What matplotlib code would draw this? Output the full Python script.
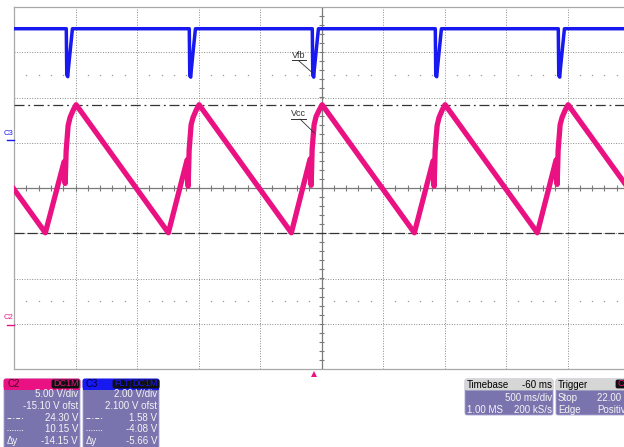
import matplotlib
matplotlib.use("Agg")
import matplotlib.pyplot as plt
import numpy as np
from matplotlib.patches import FancyBboxPatch, Rectangle
from matplotlib.transforms import blended_transform_factory

plt.rcParams['font.family'] = ['Liberation Sans', 'DejaVu Sans']

W, H = 624, 447

c2_scale, c2_ofst = 5.00, -15.10     # V/div, V
c3_scale, c3_ofst = 2.00, 2.100
time_div = 0.5                       # 500 ms/div
t_centre = 0.06                      # timebase -60 ms -> centre is 60 ms after trigger

cursor_dashdot = 24.30               # C2 cursors
cursor_dashed = 10.15

# Vcc on C2 (time in s from trigger, volts)
vcc_t = [-2.935,
         -2.185, -2.033, -2.024, -2.016, -2.000, -1.984, -1.959, -1.935,
         -1.185, -1.033, -1.024, -1.016, -1.000, -0.984, -0.959, -0.935,
         -0.185, -0.033, -0.024, -0.016, 0.000, 0.016, 0.041, 0.065,
         0.815, 0.967, 0.976, 0.984, 1.000, 1.016, 1.041, 1.065,
         1.815, 1.967, 1.976, 1.984, 2.000, 2.016, 2.041, 2.065,
         2.815]
vcc_v = [24.30,
         10.15, 18.0, 15.6, 19.2, 22.0, 22.9, 23.7, 24.30,
         10.15, 18.2, 15.3, 19.3, 22.1, 22.9, 23.7, 24.30,
         10.15, 18.3, 15.4, 19.4, 22.1, 23.0, 23.7, 24.30,
         10.15, 18.1, 15.3, 19.3, 22.0, 22.9, 23.7, 24.30,
         10.15, 18.2, 15.5, 19.3, 22.1, 22.9, 23.7, 24.30,
         10.15]

# Vfb on C3
vfb_t = [-2.50,
         -2.015, -2.011, -2.003, -1.999, -1.975, -1.965,
         -1.015, -1.011, -1.003, -0.999, -0.975, -0.965,
         -0.015, -0.011, -0.003, 0.001, 0.025, 0.035,
         0.985, 0.989, 0.997, 1.001, 1.025, 1.035,
         1.985, 1.989, 1.997, 2.001, 2.025, 2.035,
         2.60]
vfb_v = [4.94,
         4.94, 2.90, 2.82, 3.10, 4.40, 4.94,
         4.94, 2.85, 2.80, 3.10, 4.40, 4.94,
         4.94, 2.88, 2.80, 3.12, 4.40, 4.94,
         4.94, 2.86, 2.82, 3.10, 4.40, 4.94,
         4.94, 2.86, 2.80, 3.10, 4.40, 4.94,
         4.94]

# panel texts
c2_rows = ["5.00 V/div", "-15.10 V ofst", "24.30 V", "10.15 V", "-14.15 V"]
c3_rows = ["2.00 V/div", "2.100 V ofst", "1.58 V", "-4.08 V", "-5.66 V"]
tb_head = ("Timebase", "-60 ms")
tb_rows = [("", "500 ms/div"), ("1.00 MS", "200 kS/s")]
trig_rows = [("Stop", "22.00 V"), ("Edge", "Positive")]

PINK = '#ea1283'
BLUE = '#1818f0'
PANEL = '#7a74ae'
GRID = '#8a8a8a'
TXT = '#f4f4f4'

fig = plt.figure(figsize=(W / 100, H / 100), dpi=100)
pos = [14 / W, 78 / H, 615 / W, 362 / H]

# grid axes in divisions
ax = fig.add_axes(pos)
ax.set_xlim(-5, 5)
ax.set_ylim(-4, 4)
ax.set_xticks([])
ax.set_yticks([])
for s in ['left', 'top', 'bottom']:
    ax.spines[s].set_color('#a8a8a8')
    ax.spines[s].set_linewidth(0.9)
ax.spines['right'].set_visible(False)
for k in range(-4, 5):
    if k != 0:
        ax.axvline(k, color=GRID, lw=0.7, ls=(0, (1, 1.6)))
for k in range(-3, 4):
    if k != 0:
        ax.axhline(k, color=GRID, lw=0.7, ls=(0, (1, 1.6)))
minor = np.arange(-5, 5.001, 0.2)
sparse = [m for m in minor if abs(m - round(m)) > 0.01]
for yy in (2.5, -2.5):
    ax.plot(sparse, [yy] * len(sparse), ls='none', marker='s', ms=0.9,
            mew=0, color='#9a9a9a')
ax.axhline(0, color='#7a7a7a', lw=0.9)
ax.axvline(0, color='#7a7a7a', lw=0.9)
ax.vlines(minor, -0.06, 0.06, color='#7a7a7a', lw=0.8)
ax.hlines(np.arange(-4, 4.001, 0.2), -0.045, 0.045, color='#7a7a7a', lw=0.8)

# C2 axes in volts
ax2 = fig.add_axes(pos, facecolor='none')
ax2.set_xlim(t_centre - 5 * time_div, t_centre + 5 * time_div)
ax2.set_ylim(-c2_ofst - 4 * c2_scale, -c2_ofst + 4 * c2_scale)
ax2.axis('off')
ax2.axhline(cursor_dashdot, color='#353535', lw=0.9, ls=(0, (8, 3, 1.5, 3)))
ax2.axhline(cursor_dashed, color='#353535', lw=0.9, ls=(0, (8, 2.5)))
ax2.plot(vcc_t, vcc_v, color=PINK, lw=3.8, solid_joinstyle='round')

# C3 axes in volts
ax3 = ax2.twinx()
ax3.set_ylim(-c3_ofst - 4 * c3_scale, -c3_ofst + 4 * c3_scale)
ax3.axis('off')
ax3.plot(vfb_t, vfb_v, color=BLUE, lw=2.5, solid_joinstyle='round')

# overlay in pixel coords for the scope decorations
ov = fig.add_axes([0, 0, 1, 1], facecolor='none')
ov.set_xlim(0, W)
ov.set_ylim(H, 0)
ov.axis('off')
ov.set_zorder(5)

txt = dict(fontsize=7, va='center')

# trace labels
ov.text(298.5, 55, "Vfb", ha='center', color='#303030', fontsize=6.5, va='center')
ov.plot([292, 306], [60, 60], color='#303030', lw=0.7)
ov.annotate('', xy=(-0.015, 3.0), xycoords=ax3.transData, xytext=(299, 61),
            textcoords=ov.transData,
            arrowprops=dict(arrowstyle='-', lw=0.6, color='#303030', shrinkA=0, shrinkB=0))
ov.text(298.5, 113, "Vcc", ha='center', color='#303030', fontsize=6.5, va='center')
ov.plot([291, 306], [118.5, 118.5], color='#303030', lw=0.7)
ov.annotate('', xy=(0.0, 21.2), xycoords=ax2.transData, xytext=(300, 119),
            textcoords=ov.transData,
            arrowprops=dict(arrowstyle='-', lw=0.6, color='#303030', shrinkA=0, shrinkB=0))

# channel ground markers
tr3 = blended_transform_factory(ov.transData, ax3.transData)
tr2 = blended_transform_factory(ov.transData, ax2.transData)
for tr, col, name in ((tr3, BLUE, "C3"), (tr2, PINK, "C2")):
    ov.plot([7, 14], [0, 0], color=col, lw=1.0, transform=tr)
    ov.annotate(name, xy=(8, 0), xycoords=tr, xytext=(0, 2.5),
                textcoords='offset points', ha='center', va='bottom',
                fontsize=5.5, color=col)

# trigger marker
trx = blended_transform_factory(ax2.transData, ov.transData)
ov.plot([0.0], [374], marker='^', ms=5, color=PINK, mew=0, transform=trx)


def box(x0, y0, w, h, fc, ec='#a9a5d0', r=2.0):
    ov.add_patch(FancyBboxPatch((x0, y0), w, h, boxstyle=f'round,pad=0,rounding_size={r}',
                                fc=fc, ec=ec, lw=0.6))


def chan_panel(x0, head_col, name, name_col, tags, rows):
    box(x0, 379, 76, 80, PANEL)
    box(x0, 379, 76, 10, head_col, ec=head_col)
    ov.add_patch(Rectangle((x0, 385), 76, 4.5, fc=head_col, ec='none'))
    ov.text(x0 + 3, 384, name, ha='left', color=name_col, **txt)
    for tx0, tw, t in tags:
        box(tx0, 380, tw, 8, '#101010', ec='#101010', r=1.5)
        ov.text(tx0 + tw / 2, 384, t, ha='center', color=head_col, fontsize=6.5, va='center')
    ys = [394, 406, 418, 429.5, 441.5]
    for yy, t in zip(ys, rows):
        ov.text(x0 + 74, yy, t, ha='right', color=TXT, **txt)
    ov.plot([x0 + 3, x0 + 20], [418, 418], color=TXT, lw=0.7, ls=(0, (4, 2, 1, 2)))
    ov.plot([x0 + 3, x0 + 20], [429.5, 429.5], color=TXT, lw=0.7, ls=(0, (1, 1.5)))
    ov.text(x0 + 3, 441.5, "\u0394y", ha='left', color=TXT, **txt)


chan_panel(4, PINK, "C2", '#50001c', [(52, 27, "DC1M")], c2_rows)
chan_panel(83, BLUE, "C3", '#00003a', [(113, 17, "FLT"), (131, 28, "DC1M")], c3_rows)

# timebase panel
box(465, 379, 88, 36, PANEL)
box(465, 379, 88, 11, '#d6d6d6', ec='#d6d6d6')
ov.add_patch(Rectangle((465, 385), 88, 5, fc='#d6d6d6', ec='none'))
ov.text(467, 384.5, tb_head[0], ha='left', color='black', **txt)
ov.text(552, 384.5, tb_head[1], ha='right', color='black', **txt)
for yy, (a, b) in zip([398, 410], tb_rows):
    ov.text(467, yy, a, ha='left', color=TXT, **txt)
    ov.text(552, yy, b, ha='right', color=TXT, **txt)

# trigger panel (runs off the right edge)
box(556, 379, 90, 36, PANEL)
box(556, 379, 90, 11, '#d6d6d6', ec='#d6d6d6')
ov.add_patch(Rectangle((556, 385), 90, 5, fc='#d6d6d6', ec='none'))
ov.text(558, 384.5, "Trigger", ha='left', color='black', **txt)
box(616, 380, 14, 8, '#101010', ec='#101010', r=1.5)
ov.text(618, 384, "C2", ha='left', color=PINK, fontsize=6.5, va='center')
for yy, (a, b) in zip([398, 410], trig_rows):
    ov.text(558, yy, a, ha='left', color=TXT, **txt)
    ov.text(597, yy, b, ha='left', color=TXT, **txt)

fig.savefig('out.png', dpi=100)
